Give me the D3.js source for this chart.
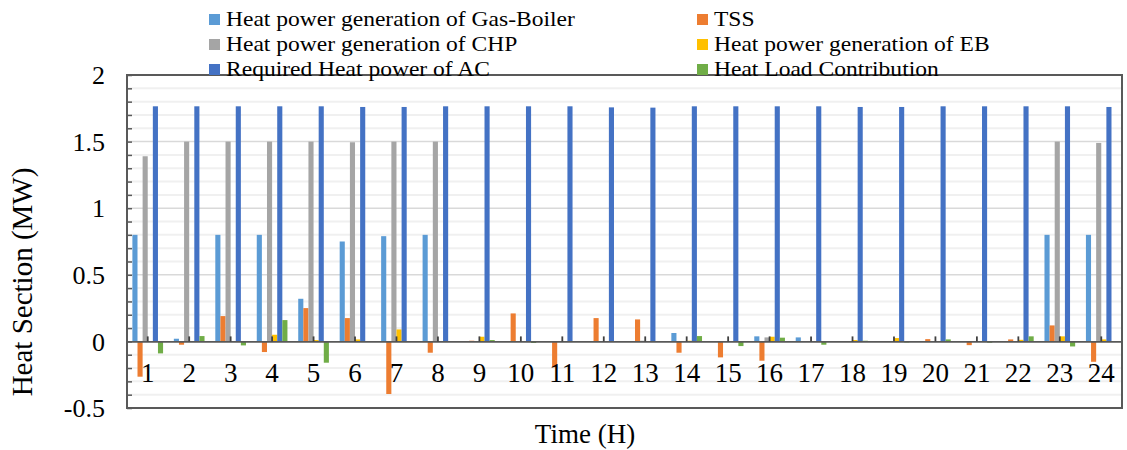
<!DOCTYPE html>
<html>
<head>
<meta charset="utf-8">
<script src="https://cdn.jsdelivr.net/npm/d3@7/dist/d3.min.js"></script>
<style>
  html, body { margin: 0; padding: 0; background: #fff; }
  svg text { font-family: "Liberation Serif", "Times New Roman", serif; fill: #000; }
</style>
</head>
<body>
<svg id="chart" width="1127" height="450"></svg>
<script>
// Hourly heat balance (MW)
const hours = d3.range(1, 25).map(String);
const gasBoiler = [0.80, 0.02, 0.80, 0.80, 0.32, 0.75, 0.79, 0.80, 0, 0, 0, 0, 0, 0.063, 0, 0.038, 0.03, 0.003, 0, 0, 0, 0, 0.80, 0.80];
const tss = [-0.265, -0.025, 0.19, -0.08, 0.25, 0.175, -0.395, -0.085, 0.005, 0.21, -0.195, 0.175, 0.165, -0.085, -0.12, -0.145, 0, 0, 0, 0.017, -0.028, 0.015, 0.12, -0.153];
const chp = [1.39, 1.5, 1.5, 1.5, 1.5, 1.495, 1.5, 1.5, 0, 0, 0, 0, 0.005, 0, 0, 0.03, 0, 0, 0, 0, 0, 0, 1.5, 1.49];
const eb = [0, 0, 0, 0.05, 0.01, 0.015, 0.09, 0, 0.035, 0, 0, 0, 0, 0.005, 0, 0.035, 0, 0.01, 0.025, 0, 0, 0.012, 0.038, 0.015];
const acRequired = [1.765, 1.765, 1.765, 1.765, 1.765, 1.76, 1.76, 1.765, 1.765, 1.765, 1.765, 1.757, 1.755, 1.765, 1.765, 1.765, 1.765, 1.76, 1.76, 1.765, 1.765, 1.765, 1.765, 1.76];
const heatLoad = [-0.09, 0.04, -0.03, 0.16, -0.16, 0, 0, 0, 0.01, -0.012, 0, 0, 0, 0.04, -0.035, 0.028, -0.025, 0.005, -0.008, 0.015, -0.01, 0.038, -0.038, 0];

const seriesNames = [
  "Heat power generation of Gas-Boiler",
  "TSS",
  "Heat power generation of CHP",
  "Heat power generation of EB",
  "Required Heat power of AC",
  "Heat Load Contribution"
];
const seriesColors = ["#5b9bd5", "#ed7d31", "#a5a5a5", "#ffc000", "#4472c4", "#70ad47"];
const seriesValues = [gasBoiler, tss, chp, eb, acRequired, heatLoad];
const yTickValues = [-0.5, 0, 0.5, 1, 1.5, 2];
const yTickLabels = ["-0.5", "0", "0.5", "1", "1.5", "2"];

const svg = d3.select("#chart");
const plot = { left: 127, right: 1122, top: 75, bottom: 408 };

const x0 = d3.scaleBand().domain(hours).range([plot.left, plot.right]).padding(0);
const clusterW = x0.bandwidth() * 0.74;
const x1 = d3.scaleBand().domain(d3.range(seriesNames.length)).range([0, clusterW]).padding(0);
const y = d3.scaleLinear().domain([-0.5, 2]).range([plot.bottom, plot.top]);

// minor gridlines every 0.1
const minor = d3.range(-5, 21).map(d => d / 10);
svg.append("g").selectAll("line").data(minor.filter(v => Math.abs(v * 2 - Math.round(v * 2)) > 1e-6))
  .join("line")
  .attr("x1", plot.left).attr("x2", plot.right)
  .attr("y1", d => y(d)).attr("y2", d => y(d))
  .attr("stroke", "#f0f0f0").attr("stroke-width", 2);
// major gridlines every 0.5
svg.append("g").selectAll("line").data([0.5, 1, 1.5])
  .join("line")
  .attr("x1", plot.left).attr("x2", plot.right)
  .attr("y1", d => y(d)).attr("y2", d => y(d))
  .attr("stroke", "#d9d9d9").attr("stroke-width", 1.5);

// bars
const groups = svg.append("g").selectAll("g").data(hours).join("g")
  .attr("transform", d => `translate(${x0(d) + (x0.bandwidth() - clusterW) / 2},0)`);
groups.selectAll("rect")
  .data((h, i) => seriesValues.map((vals, s) => ({ s, v: vals[i] })))
  .join("rect")
  .attr("x", d => x1(d.s))
  .attr("width", x1.bandwidth())
  .attr("y", d => y(Math.max(0, d.v)))
  .attr("height", d => Math.abs(y(d.v) - y(0)))
  .attr("fill", d => seriesColors[d.s]);

// category axis along zero
const xAxis = d3.axisTop(x0).tickSize(5).tickSizeOuter(0).tickFormat("");
const xg = svg.append("g").attr("transform", `translate(0,${y(0)})`).call(xAxis);
xg.select(".domain").attr("stroke", "#595959").attr("stroke-width", 1.8);
xg.selectAll(".tick line").attr("stroke", "#404040").attr("stroke-width", 1.8);

// category labels
svg.append("g").selectAll("text").data(hours).join("text")
  .attr("x", d => x0(d) + x0.bandwidth() / 2)
  .attr("y", 382)
  .attr("text-anchor", "middle")
  .attr("font-size", 27)
  .text(d => d);

// value axis with inside minor ticks
const yAxis = d3.axisRight(y).tickValues(minor).tickSize(5).tickSizeOuter(0).tickFormat("");
const yg = svg.append("g").attr("transform", `translate(${plot.left},0)`).call(yAxis);
yg.select(".domain").remove();
yg.selectAll(".tick line").attr("stroke", "#595959").attr("stroke-width", 1.5);

svg.append("g").selectAll("text").data(yTickValues).join("text")
  .attr("x", 105)
  .attr("y", d => y(d))
  .attr("dy", "0.35em")
  .attr("text-anchor", "end")
  .attr("font-size", 26)
  .text((d, i) => yTickLabels[i]);

// plot frame
svg.append("rect")
  .attr("x", plot.left).attr("y", plot.top)
  .attr("width", plot.right - plot.left).attr("height", plot.bottom - plot.top)
  .attr("fill", "none").attr("stroke", "#595959").attr("stroke-width", 2);

// axis titles
svg.append("text")
  .attr("x", 585).attr("y", 443)
  .attr("text-anchor", "middle").attr("font-size", 27)
  .text("Time (H)");
svg.append("text")
  .attr("transform", "translate(32,282) rotate(-90)")
  .attr("text-anchor", "middle").attr("font-size", 29)
  .text("Heat Section (MW)");

// legend: two columns, three rows, packed tightly above the plot
const legendCols = [209, 697];
const legendRows = [18, 43, 68];
const legendOrder = [0, 1, 2, 3, 4, 5];
const leg = svg.append("g").selectAll("g").data(legendOrder).join("g")
  .attr("transform", (s, i) => `translate(${legendCols[i % 2]},${legendRows[Math.floor(i / 2)]})`);
leg.append("rect").attr("x", 0).attr("y", -4).attr("width", 11).attr("height", 11)
  .attr("fill", s => seriesColors[s]);
leg.append("text")
  .attr("transform", "translate(17,0) scale(1.07,1)")
  .attr("dy", "0.36em")
  .attr("font-size", 22)
  .text(s => seriesNames[s]);
</script>
</body>
</html>
